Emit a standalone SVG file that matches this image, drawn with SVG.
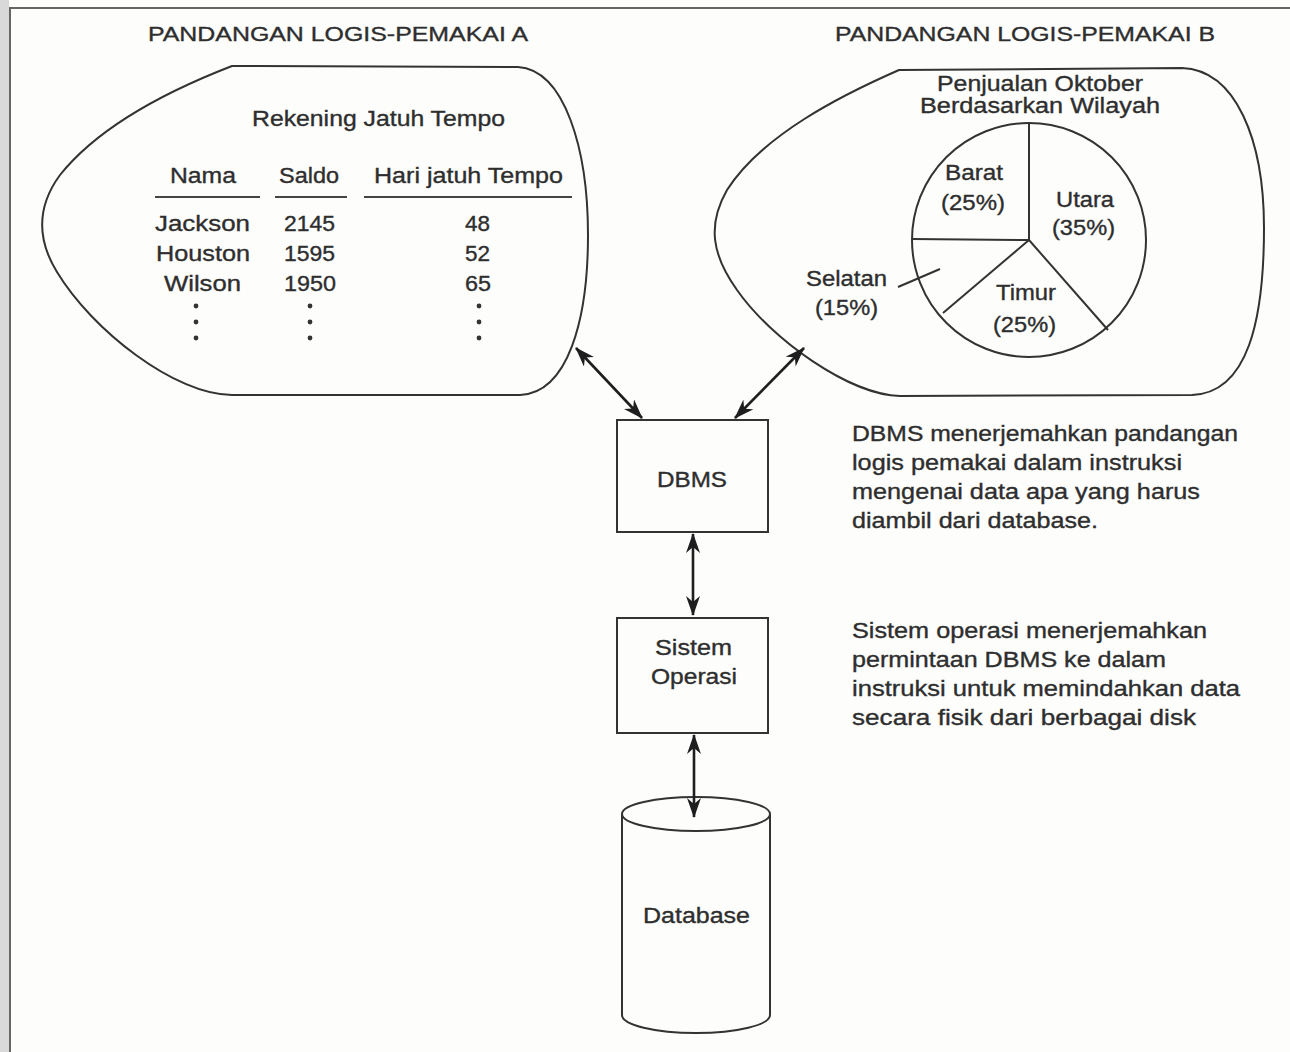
<svg xmlns="http://www.w3.org/2000/svg" width="1290" height="1052" viewBox="0 0 1290 1052">
  <style>
    text { font-family: "Liberation Sans", Arial, sans-serif; fill: #2e2e2e; stroke: #2e2e2e; stroke-width: 0.35px; }
    .title { font-size: 20.5px; }
    .lbl { font-size: 21.5px; }
    .note { font-size: 21.5px; }
    .shape { fill: none; stroke: #333; stroke-width: 2; }
    .rule { stroke: #444; stroke-width: 2.2; }
    .conn { stroke: #1e1e1e; stroke-width: 2.6; fill: none; }
    .dot { fill: #333; }
  </style>
  <defs>
    <marker id="head" viewBox="0 0 20 14" refX="19" refY="7" markerWidth="20" markerHeight="14" markerUnits="userSpaceOnUse" orient="auto-start-reverse">
      <path d="M0,0 L20,7 L0,14 L6,7 Z" fill="#1e1e1e"/>
    </marker>
  </defs>

  <!-- page and frame -->
  <rect x="0" y="0" width="1290" height="1052" fill="#fdfdfc"/>
  <rect x="0" y="0" width="9" height="1052" fill="#d9d9d9"/>
  <path d="M10,1052 L10,8 L1290,8" fill="none" stroke="#666" stroke-width="2"/>

  <!-- user view A -->
  <g id="view-a">
    <text class="title" x="148" y="41" textLength="380" lengthAdjust="spacingAndGlyphs">PANDANGAN LOGIS-PEMAKAI A</text>
    <path class="shape" d="M232,66 L518,67 C565,70 588,150 588,235 C588,320 568,393 520,395 L232,395 C175,395 92,330 57,272 C36,238 38,205 60,175 C100,125 170,90 232,66 Z"/>
    <text class="lbl" x="252" y="126" textLength="253" lengthAdjust="spacingAndGlyphs">Rekening Jatuh Tempo</text>
    <text class="lbl" x="170" y="183" textLength="66" lengthAdjust="spacingAndGlyphs">Nama</text>
    <text class="lbl" x="279" y="183" textLength="60" lengthAdjust="spacingAndGlyphs">Saldo</text>
    <text class="lbl" x="374" y="183" textLength="189" lengthAdjust="spacingAndGlyphs">Hari jatuh Tempo</text>
    <line class="rule" x1="155" y1="197" x2="260" y2="197"/>
    <line class="rule" x1="275" y1="197" x2="347" y2="197"/>
    <line class="rule" x1="364" y1="197" x2="572" y2="197"/>
    <text class="lbl" x="155" y="231" textLength="95" lengthAdjust="spacingAndGlyphs">Jackson</text>
    <text class="lbl" x="284" y="231" textLength="51" lengthAdjust="spacingAndGlyphs">2145</text>
    <text class="lbl" x="465" y="231" textLength="25" lengthAdjust="spacingAndGlyphs">48</text>
    <text class="lbl" x="156" y="261" textLength="94" lengthAdjust="spacingAndGlyphs">Houston</text>
    <text class="lbl" x="284" y="261" textLength="51" lengthAdjust="spacingAndGlyphs">1595</text>
    <text class="lbl" x="465" y="261" textLength="25" lengthAdjust="spacingAndGlyphs">52</text>
    <text class="lbl" x="164" y="291" textLength="77" lengthAdjust="spacingAndGlyphs">Wilson</text>
    <text class="lbl" x="284" y="291" textLength="52" lengthAdjust="spacingAndGlyphs">1950</text>
    <text class="lbl" x="465" y="291" textLength="26" lengthAdjust="spacingAndGlyphs">65</text>
    <circle class="dot" cx="196" cy="306" r="2.4"/>
    <circle class="dot" cx="196" cy="322" r="2.4"/>
    <circle class="dot" cx="196" cy="338" r="2.4"/>
    <circle class="dot" cx="310" cy="306" r="2.4"/>
    <circle class="dot" cx="310" cy="322" r="2.4"/>
    <circle class="dot" cx="310" cy="338" r="2.4"/>
    <circle class="dot" cx="479" cy="306" r="2.4"/>
    <circle class="dot" cx="479" cy="322" r="2.4"/>
    <circle class="dot" cx="479" cy="338" r="2.4"/>
  </g>

  <!-- user view B -->
  <g id="view-b">
    <text class="title" x="835" y="41" textLength="380" lengthAdjust="spacingAndGlyphs">PANDANGAN LOGIS-PEMAKAI B</text>
    <path class="shape" d="M899,70 L1182,68 C1236,70 1264,140 1264,228 C1264,320 1248,393 1192,395 L900,396 C850,395 772,340 737,290 C712,255 707,225 727,190 C762,135 842,95 899,70 Z"/>
    <text class="lbl" x="937" y="91" textLength="206" lengthAdjust="spacingAndGlyphs">Penjualan Oktober</text>
    <text class="lbl" x="920" y="113" textLength="240" lengthAdjust="spacingAndGlyphs">Berdasarkan Wilayah</text>
    <circle class="shape" cx="1029" cy="240" r="117"/>
    <line class="shape" x1="1029" y1="240" x2="1029" y2="123"/>
    <line class="shape" x1="1029" y1="240" x2="912" y2="239"/>
    <line class="shape" x1="1029" y1="240" x2="943" y2="313"/>
    <line class="shape" x1="1029" y1="240" x2="1108" y2="330"/>
    <line class="shape" x1="898" y1="287" x2="940" y2="269"/>
    <text class="lbl" x="945" y="180" textLength="58" lengthAdjust="spacingAndGlyphs">Barat</text>
    <text class="lbl" x="941" y="210" textLength="64" lengthAdjust="spacingAndGlyphs">(25%)</text>
    <text class="lbl" x="1056" y="207" textLength="58" lengthAdjust="spacingAndGlyphs">Utara</text>
    <text class="lbl" x="1052" y="235" textLength="63" lengthAdjust="spacingAndGlyphs">(35%)</text>
    <text class="lbl" x="806" y="286" textLength="81" lengthAdjust="spacingAndGlyphs">Selatan</text>
    <text class="lbl" x="815" y="315" textLength="63" lengthAdjust="spacingAndGlyphs">(15%)</text>
    <text class="lbl" x="996" y="300" textLength="60" lengthAdjust="spacingAndGlyphs">Timur</text>
    <text class="lbl" x="993" y="332" textLength="63" lengthAdjust="spacingAndGlyphs">(25%)</text>
  </g>

  <!-- DBMS -->
  <g id="dbms">
    <rect class="shape" x="617" y="420" width="151" height="112"/>
    <text class="lbl" x="657" y="487" textLength="70" lengthAdjust="spacingAndGlyphs">DBMS</text>
  </g>

  <!-- operating system -->
  <g id="os">
    <rect class="shape" x="617" y="618" width="151" height="115"/>
    <text class="lbl" x="655" y="655" textLength="77" lengthAdjust="spacingAndGlyphs">Sistem</text>
    <text class="lbl" x="651" y="684" textLength="86" lengthAdjust="spacingAndGlyphs">Operasi</text>
  </g>

  <!-- database cylinder -->
  <g id="database">
    <path class="shape" d="M622,814 L622,1015 A74,18 0 0 0 770,1015 L770,814"/>
    <ellipse class="shape" cx="696" cy="814" rx="74" ry="17"/>
    <text class="lbl" x="643" y="923" textLength="107" lengthAdjust="spacingAndGlyphs">Database</text>
  </g>

  <!-- explanatory notes -->
  <g id="notes">
    <text class="note" x="852" y="441" textLength="386" lengthAdjust="spacingAndGlyphs">DBMS menerjemahkan pandangan</text>
    <text class="note" x="852" y="470" textLength="330" lengthAdjust="spacingAndGlyphs">logis pemakai dalam instruksi</text>
    <text class="note" x="852" y="499" textLength="348" lengthAdjust="spacingAndGlyphs">mengenai data apa yang harus</text>
    <text class="note" x="852" y="528" textLength="246" lengthAdjust="spacingAndGlyphs">diambil dari database.</text>
    <text class="note" x="852" y="638" textLength="355" lengthAdjust="spacingAndGlyphs">Sistem operasi menerjemahkan</text>
    <text class="note" x="852" y="667" textLength="314" lengthAdjust="spacingAndGlyphs">permintaan DBMS ke dalam</text>
    <text class="note" x="852" y="696" textLength="388" lengthAdjust="spacingAndGlyphs">instruksi untuk memindahkan data</text>
    <text class="note" x="852" y="725" textLength="344" lengthAdjust="spacingAndGlyphs">secara fisik dari berbagai disk</text>
  </g>

  <!-- connectors -->
  <g id="connectors">
    <line class="conn" x1="576" y1="348" x2="642" y2="418" marker-start="url(#head)" marker-end="url(#head)"/>
    <line class="conn" x1="804" y1="348" x2="735" y2="418" marker-start="url(#head)" marker-end="url(#head)"/>
    <line class="conn" x1="693" y1="534" x2="693" y2="615" marker-start="url(#head)" marker-end="url(#head)"/>
    <line class="conn" x1="694" y1="735" x2="694" y2="817" marker-start="url(#head)" marker-end="url(#head)"/>
  </g>
</svg>
